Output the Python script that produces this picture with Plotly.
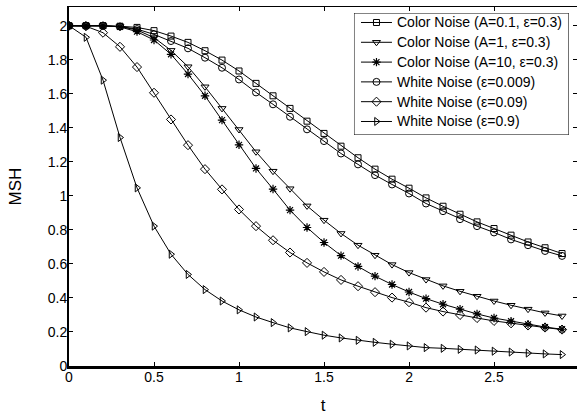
import plotly.graph_objects as go

# time samples
t = [0.0, 0.1, 0.2, 0.3, 0.4, 0.5, 0.6, 0.7, 0.8, 0.9,
     1.0, 1.1, 1.2, 1.3, 1.4, 1.5, 1.6, 1.7, 1.8, 1.9,
     2.0, 2.1, 2.2, 2.3, 2.4, 2.5, 2.6, 2.7, 2.8, 2.9]

color_a01 = [2.0, 2.0, 2.0, 1.997, 1.99, 1.971, 1.939, 1.902, 1.853, 1.798,
             1.734, 1.661, 1.588, 1.514, 1.439, 1.367, 1.292, 1.224, 1.157, 1.098,
             1.045, 0.988, 0.939, 0.892, 0.847, 0.808, 0.769, 0.729, 0.695, 0.661]

color_a1 = [2.0, 2.0, 2.0, 1.995, 1.975, 1.93, 1.855, 1.759, 1.641, 1.514,
            1.39, 1.259, 1.145, 1.042, 0.941, 0.857, 0.779, 0.71, 0.651, 0.596,
            0.549, 0.508, 0.471, 0.439, 0.41, 0.382, 0.357, 0.334, 0.312, 0.294]

color_a10 = [2.0, 2.0, 2.0, 1.993, 1.965, 1.916, 1.832, 1.716, 1.588, 1.445,
             1.30, 1.161, 1.04, 0.916, 0.814, 0.726, 0.649, 0.585, 0.528, 0.479,
             0.435, 0.396, 0.363, 0.334, 0.306, 0.282, 0.263, 0.245, 0.229, 0.216]

white_0009 = [2.0, 2.0, 2.0, 1.995, 1.98, 1.949, 1.91, 1.867, 1.812, 1.753,
              1.684, 1.608, 1.538, 1.465, 1.391, 1.322, 1.249, 1.185, 1.122, 1.067,
              1.014, 0.955, 0.91, 0.863, 0.822, 0.785, 0.744, 0.71, 0.676, 0.647]

white_009 = [2.0, 1.997, 1.959, 1.876, 1.757, 1.606, 1.449, 1.298, 1.157, 1.038,
             0.92, 0.822, 0.739, 0.667, 0.606, 0.553, 0.506, 0.469, 0.434, 0.402,
             0.375, 0.343, 0.32, 0.30, 0.282, 0.265, 0.251, 0.238, 0.226, 0.214]

white_09 = [2.0, 1.932, 1.68, 1.343, 1.047, 0.822, 0.657, 0.538, 0.449, 0.382,
            0.33, 0.288, 0.255, 0.224, 0.202, 0.181, 0.165, 0.151, 0.139, 0.128,
            0.118, 0.108, 0.104, 0.098, 0.094, 0.087, 0.082, 0.076, 0.071, 0.067]

series_names = ["Color Noise (A=0.1, ε=0.3)", "Color Noise (A=1, ε=0.3)",
                "Color Noise (A=10, ε=0.3)", "White Noise (ε=0.009)",
                "White Noise (ε=0.09)", "White Noise (ε=0.9)"]
series_values = [color_a01, color_a1, color_a10, white_0009, white_009, white_09]
symbols = ["square-open", "triangle-down-open", "asterisk-open",
           "circle-open", "diamond-open", "triangle-right-open"]
sizes = [6, 7, 7, 7, 7, 7]

x_ticks = [0, 0.5, 1, 1.5, 2, 2.5, 3]
y_ticks = [0, 0.2, 0.4, 0.6, 0.8, 1, 1.2, 1.4, 1.6, 1.8, 2]

FONT = "Liberation Sans, Arial, Helvetica, sans-serif"


def marker_style(sym, sz):
    return dict(symbol=sym, size=sz, color="black",
                line=dict(color="black", width=1.2 if sym == "asterisk-open" else 1))


fig = go.Figure()
for name, vals, sym, sz in zip(series_names, series_values, symbols, sizes):
    fig.add_trace(go.Scatter(
        x=t, y=vals, name=name, mode="lines+markers", showlegend=False,
        line=dict(color="black", width=1), marker=marker_style(sym, sz),
    ))

# Legend box drawn on its own small axis pair (units: pixels inside the box)
BOX_W, BOX_H = 215, 122
ROW0, ROW_STEP = 9.5, 19.8
for i, (name, sym, sz) in enumerate(zip(series_names, symbols, sizes)):
    ry = ROW0 + ROW_STEP * i
    fig.add_trace(go.Scatter(
        x=[7, 38], y=[ry, ry], xaxis="x3", yaxis="y3", mode="lines",
        line=dict(color="black", width=1), showlegend=False, hoverinfo="skip"))
    fig.add_trace(go.Scatter(
        x=[22.5], y=[ry], xaxis="x3", yaxis="y3", mode="markers",
        marker=marker_style(sym, sz), showlegend=False, hoverinfo="skip"))
    fig.add_annotation(
        x=41, y=ry, xref="x3", yref="y3", text=name, showarrow=False,
        xanchor="left", yanchor="middle",
        font=dict(family=FONT, size=14, color="black"))

fig.add_shape(type="rect", xref="x3", yref="y3", x0=0, x1=BOX_W, y0=0, y1=BOX_H,
              line=dict(color="black", width=1), fillcolor="rgba(0,0,0,0)",
              layer="above")

fig.update_layout(
    width=577, height=416,
    margin=dict(l=69, r=0, t=7, b=50),
    paper_bgcolor="white", plot_bgcolor="white",
    font=dict(family=FONT, size=14, color="black"),
    showlegend=False,
    xaxis=dict(
        range=[0, 2.988], tickvals=x_ticks, ticks="inside", ticklen=4,
        tickcolor="black", showline=True, linecolor="black", linewidth=2.5,
        showgrid=False, zeroline=False, mirror=False,
        tickfont=dict(family=FONT, size=14), ticklabelstandoff=-4,
        title=dict(text="t", font=dict(family=FONT, size=17), standoff=16),
    ),
    yaxis=dict(
        range=[0, 2.11], tickvals=y_ticks, ticks="inside", ticklen=4,
        tickcolor="black", showline=True, linecolor="black", linewidth=2,
        showgrid=False, zeroline=False, mirror=False,
        tickfont=dict(family=FONT, size=14), ticklabelstandoff=-3,
        title=dict(text="MSH", font=dict(family=FONT, size=17), standoff=22),
    ),
    xaxis2=dict(
        overlaying="x", matches="x", side="top", anchor="y",
        range=[0, 2.988], tickvals=x_ticks, ticks="inside", ticklen=4,
        tickcolor="black", showline=True, linecolor="black", linewidth=1,
        showticklabels=False, showgrid=False, zeroline=False,
    ),
    yaxis2=dict(
        overlaying="y", matches="y", side="right", anchor="x",
        range=[0, 2.11], tickvals=y_ticks, ticks="inside", ticklen=4,
        tickcolor="black", showline=False,
        showticklabels=False, showgrid=False, zeroline=False,
    ),
    xaxis3=dict(domain=[0.561, 0.984], range=[0, BOX_W], anchor="y3",
                visible=False, fixedrange=True),
    yaxis3=dict(domain=[0.6435, 0.9833], range=[BOX_H, 0], anchor="x3",
                visible=False, fixedrange=True),
)

# invisible trace so the mirrored top/right tick axes are drawn
fig.add_trace(go.Scatter(x=[0], y=[0], xaxis="x2", yaxis="y2", mode="markers",
                         marker=dict(opacity=0), showlegend=False, hoverinfo="skip"))

fig.write_html("out.html")
